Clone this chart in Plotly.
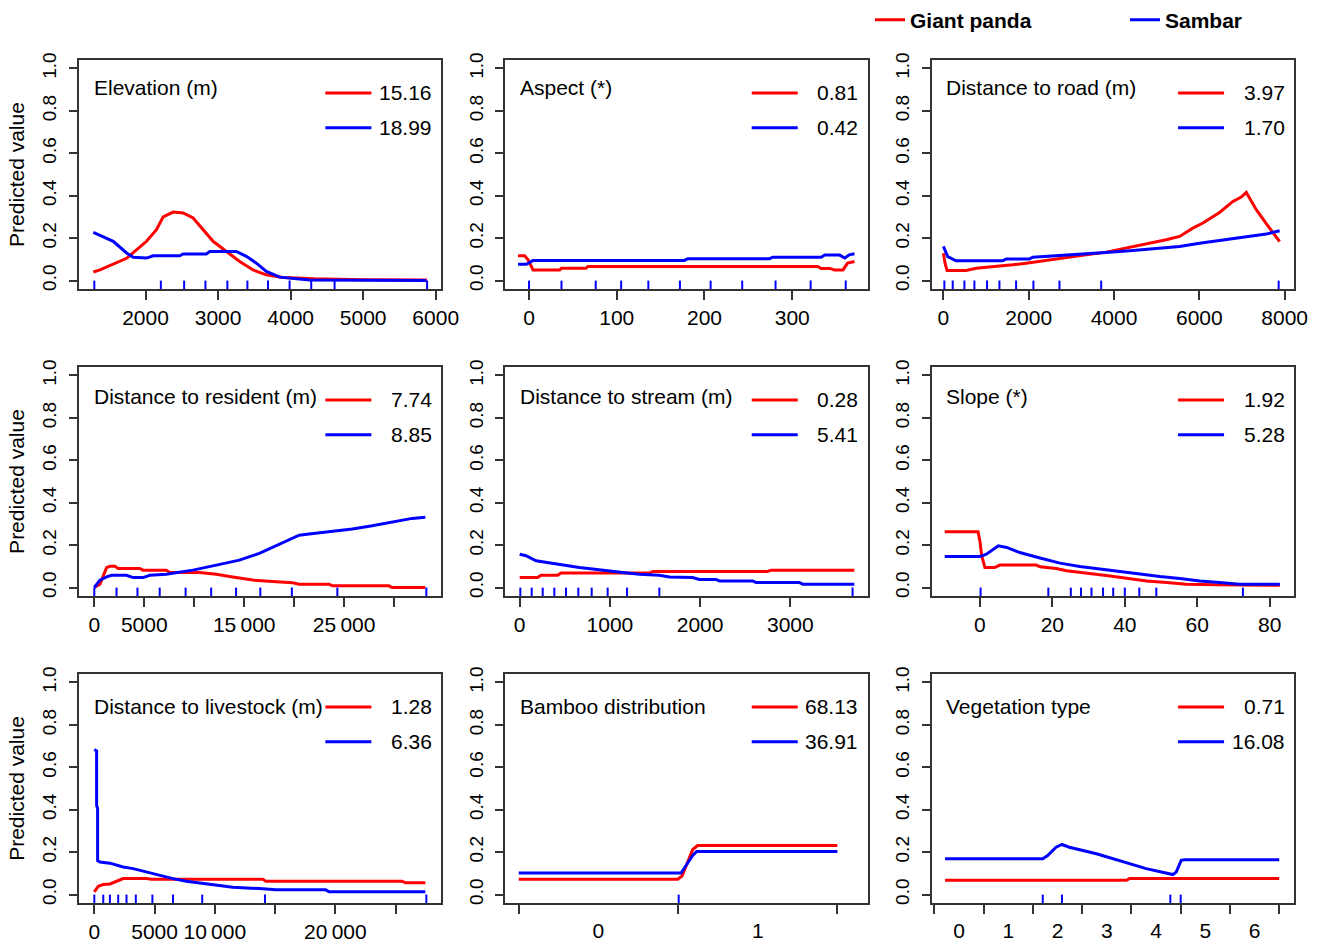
import plotly.graph_objects as go
from plotly.subplots import make_subplots

RED = "#ff0000"
BLUE = "#0000ff"
AXIS = "#333333"
FONT = "Arial, Liberation Sans, sans-serif"

titles = ["Elevation (m)", "Aspect (*)", "Distance to road (m)",
          "Distance to resident (m)", "Distance to stream (m)", "Slope (*)",
          "Distance to livestock (m)", "Bamboo distribution", "Vegetation type"]
panda_score = [15.16, 0.81, 3.97, 7.74, 0.28, 1.92, 1.28, 68.13, 0.71]
sambar_score = [18.99, 0.42, 1.70, 8.85, 5.41, 5.28, 6.36, 36.91, 16.08]

# Elevation (m)
elev_x_panda = [1280, 1372, 1739, 2014, 2151, 2243, 2381, 2518, 2656, 2794, 2931,
                3115, 3298, 3482, 3665, 3894, 4124, 4330, 5000, 5880]
elev_y_panda = [0.04, 0.05, 0.105, 0.185, 0.24, 0.30, 0.323, 0.319, 0.295, 0.24, 0.185,
                0.137, 0.09, 0.05, 0.027, 0.014, 0.009, 0.008, 0.004, 0.003]
elev_x_sambar = [1280, 1555, 1739, 1830, 2014, 2106, 2472, 2518, 2839, 2885, 3252,
                 3390, 3528, 3665, 3849, 4032, 4261, 5867]
elev_y_sambar = [0.227, 0.185, 0.13, 0.11, 0.106, 0.117, 0.117, 0.125, 0.125, 0.137, 0.137,
                 0.114, 0.082, 0.043, 0.016, 0.009, 0.003, 0.0]
elev_rug = [1294, 2211, 2532, 2826, 3128, 3404, 3688, 3986, 4284, 4606, 5881]

# Aspect (*)
asp_x_panda = [-12.5, -5, -1, 4.6, 35, 37, 65, 67, 329, 333, 343, 348, 358, 363, 371]
asp_y_panda = [0.117, 0.117, 0.098, 0.05, 0.05, 0.058, 0.058, 0.066, 0.066, 0.057, 0.057,
               0.05, 0.05, 0.082, 0.09]
asp_x_sambar = [-12.5, -3, 4.6, 177, 181, 274, 278, 333, 337, 354, 360, 365, 371]
asp_y_sambar = [0.077, 0.077, 0.095, 0.095, 0.103, 0.103, 0.11, 0.11, 0.12, 0.12, 0.106,
                0.121, 0.126]
asp_rug = [0, 37, 76, 105, 136, 172, 207, 243, 281, 321, 361]

# Distance to road (m)
road_x_panda = [0, 39, 86, 532, 766, 1314, 1626, 1939, 2408, 2878, 3347, 3816, 4285,
                4754, 5224, 5536, 5849, 6083, 6474, 6787, 6983, 7100, 7335, 7569, 7882]
road_y_panda = [0.129, 0.082, 0.047, 0.047, 0.058, 0.066, 0.074, 0.082, 0.094, 0.106,
                0.121, 0.134, 0.153, 0.173, 0.192, 0.208, 0.247, 0.271, 0.321, 0.373,
                0.394, 0.416, 0.334, 0.268, 0.184]
road_x_sambar = [0, 102, 297, 1392, 1470, 2017, 2096, 2721, 3347, 3972, 4441, 4989,
                 5536, 6005, 6553, 7100, 7569, 7882]
road_y_sambar = [0.161, 0.113, 0.093, 0.093, 0.102, 0.102, 0.11, 0.117, 0.126, 0.134,
                 0.142, 0.153, 0.161, 0.176, 0.192, 0.205, 0.219, 0.235]
road_rug = [23, 219, 493, 727, 1024, 1314, 1705, 2111, 2721, 3699, 7859]

# Distance to resident (m)
res_x_panda = [0, 565, 1229, 1561, 2060, 2392, 4551, 4884, 7209, 7542, 10532, 12193,
               13854, 14850, 15847, 17841, 19834, 20498, 23488, 23821, 29468, 29801, 33123]
res_y_panda = [0.0, 0.016, 0.094, 0.1, 0.1, 0.09, 0.09, 0.082, 0.082, 0.071, 0.071, 0.063,
               0.05, 0.044, 0.035, 0.028, 0.022, 0.016, 0.016, 0.008, 0.008, 0.0, 0.0]
res_x_sambar = [0, 565, 1229, 1728, 3223, 3887, 4884, 5548, 7209, 8538, 9867, 11860,
                14518, 16512, 18173, 19502, 20498, 21495, 22492, 23821, 25814, 27807,
                29801, 31794, 33123]
res_y_sambar = [0.0, 0.035, 0.05, 0.058, 0.058, 0.047, 0.047, 0.058, 0.063, 0.071, 0.082,
                0.102, 0.129, 0.161, 0.197, 0.225, 0.247, 0.252, 0.257, 0.263, 0.276,
                0.291, 0.307, 0.326, 0.331]
res_rug = [0, 2226, 4319, 6545, 9136, 11694, 14186, 16611, 19767, 24319, 33223]

# Distance to stream (m)
str_x_panda = [0, 199, 236, 421, 458, 1440, 1474, 2748, 2785, 3709]
str_y_panda = [0.047, 0.047, 0.058, 0.058, 0.068, 0.068, 0.076, 0.076, 0.082, 0.082]
str_x_sambar = [0, 70, 181, 292, 403, 513, 661, 809, 957, 1141, 1326, 1548, 1659, 1917,
                1991, 2176, 2213, 2582, 2619, 3099, 3136, 3709]
str_y_sambar = [0.157, 0.15, 0.126, 0.118, 0.11, 0.102, 0.094, 0.087, 0.079, 0.071, 0.063,
                0.058, 0.05, 0.047, 0.038, 0.038, 0.031, 0.031, 0.024, 0.024, 0.016, 0.016]
str_rug = [7, 133, 255, 384, 513, 650, 798, 975, 1190, 1548, 3690]

# Slope (*)
slope_x_panda = [-9.7, -0.5, 0, 0.5, 1.4, 4.1, 5.5, 15.6, 16.6, 21.1, 23.9, 29.4, 34.9,
                 40.5, 46.0, 51.5, 57.0, 65.3, 82.8]
slope_y_panda = [0.263, 0.263, 0.22, 0.15, 0.094, 0.094, 0.106, 0.106, 0.098, 0.09, 0.079,
                 0.069, 0.057, 0.044, 0.031, 0.024, 0.016, 0.013, 0.011]
slope_x_sambar = [-9.7, 0, 1.8, 5.1, 7.4, 11.0, 16.6, 22.1, 27.6, 33.1, 38.6, 44.1, 49.7,
                  55.2, 60.7, 66.2, 71.7, 82.8]
slope_y_sambar = [0.146, 0.146, 0.157, 0.197, 0.189, 0.165, 0.139, 0.115, 0.099, 0.087,
                  0.076, 0.063, 0.052, 0.043, 0.031, 0.024, 0.016, 0.016]
slope_rug = [0.2, 18.9, 25.1, 27.9, 30.8, 34.0, 36.8, 40.0, 44.0, 48.7, 72.6]

# Distance to livestock (m)
live_x_panda = [0, 330, 744, 1295, 1708, 2397, 4325, 4738, 13967, 14242, 25537, 25813, 27466]
live_y_panda = [0.0125, 0.039, 0.047, 0.05, 0.059, 0.075, 0.075, 0.072, 0.072, 0.0625,
                0.0625, 0.055, 0.055]
live_x_sambar = [0, 193, 193, 275, 275, 468, 1295, 2397, 3223, 4325, 5427, 6529, 7631,
                 9008, 10110, 11488, 13691, 15069, 19201, 19477, 27466]
live_y_sambar = [0.684, 0.677, 0.42, 0.406, 0.16, 0.153, 0.148, 0.13, 0.122, 0.106, 0.09,
                 0.075, 0.0625, 0.052, 0.041, 0.034, 0.028, 0.022, 0.022, 0.0125, 0.0125]
live_rug = [0, 744, 1295, 1983, 2672, 3444, 4821, 6529, 8953, 14160, 27548]

# Bamboo distribution
bam_x_panda = [-0.5, 0.498, 0.525, 0.592, 0.623, 1.5]
bam_y_panda = [0.072, 0.072, 0.0875, 0.2125, 0.231, 0.231]
bam_x_sambar = [-0.5, 0.519, 0.592, 0.617, 1.5]
bam_y_sambar = [0.1016, 0.1016, 0.184, 0.203, 0.203]
bam_rug = [0.504]

# Vegetation type
veg_x_panda = [-0.283, 3.40, 3.46, 6.5]
veg_y_panda = [0.067, 0.067, 0.075, 0.075]
veg_x_sambar = [-0.283, 1.70, 1.80, 1.97, 2.09, 2.24, 2.79, 3.33, 3.80, 4.34, 4.41, 4.51,
                4.58, 6.5]
veg_y_sambar = [0.169, 0.169, 0.184, 0.223, 0.236, 0.223, 0.192, 0.153, 0.122, 0.094,
                0.106, 0.161, 0.164, 0.164]
veg_rug = [1.70, 2.09, 4.29, 4.50]

# x-axis tick labels
elev_ticks = [2000, 3000, 4000, 5000, 6000]
asp_ticks = [0, 100, 200, 300]
road_ticks = [0, 2000, 4000, 6000, 8000]
res_ticks = [0, 5000, 10000, 15000, 20000, 25000, 30000]
res_labels = ["0", "5000", "", "15\u2009000", "", "25\u2009000", ""]
str_ticks = [0, 1000, 2000, 3000]
slope_ticks = [0, 20, 40, 60, 80]
live_ticks = [0, 5000, 10000, 15000, 20000, 25000]
live_labels = ["0", "5000", "10\u2009000", "", "20\u2009000", ""]
bam_labels = ["0", "1"]
veg_labels = ["0", "1", "2", "3", "4", "5", "6"]

panels = [
    dict(xp=elev_x_panda, yp=elev_y_panda, xs=elev_x_sambar, ys=elev_y_sambar, rug=elev_rug,
         rng=[1083, 6077], tv=elev_ticks, tt=[str(v) for v in elev_ticks]),
    dict(xp=asp_x_panda, yp=asp_y_panda, xs=asp_x_sambar, ys=asp_y_sambar, rug=asp_rug,
         rng=[-27, 386], tv=asp_ticks, tt=[str(v) for v in asp_ticks]),
    dict(xp=road_x_panda, yp=road_y_panda, xs=road_x_sambar, ys=road_y_sambar, rug=road_rug,
         rng=[-274, 8219], tv=road_ticks, tt=[str(v) for v in road_ticks]),
    dict(xp=res_x_panda, yp=res_y_panda, xs=res_x_sambar, ys=res_y_sambar, rug=res_rug,
         rng=[-1530, 34720], tv=res_ticks, tt=res_labels),
    dict(xp=str_x_panda, yp=str_y_panda, xs=str_x_sambar, ys=str_y_sambar, rug=str_rug,
         rng=[-159, 3857], tv=str_ticks, tt=[str(v) for v in str_ticks]),
    dict(xp=slope_x_panda, yp=slope_y_panda, xs=slope_x_sambar, ys=slope_y_sambar, rug=slope_rug,
         rng=[-13.3, 86.7], tv=slope_ticks, tt=[str(v) for v in slope_ticks]),
    dict(xp=live_x_panda, yp=live_y_panda, xs=live_x_sambar, ys=live_y_sambar, rug=live_rug,
         rng=[-1270, 28790], tv=live_ticks, tt=live_labels),
    dict(xp=bam_x_panda, yp=bam_y_panda, xs=bam_x_sambar, ys=bam_y_sambar, rug=bam_rug,
         rng=[-0.584, 1.69], tv=list(range(len(bam_labels))), tt=bam_labels, cat=True),
    dict(xp=veg_x_panda, yp=veg_y_panda, xs=veg_x_sambar, ys=veg_y_sambar, rug=veg_rug,
         rng=[-0.554, 6.80], tv=list(range(len(veg_labels))), tt=veg_labels, cat=True),
]

title_y = [0.882, 0.873, 0.858]  # vertical spot of the panel name, per row

fig = make_subplots(rows=3, cols=3, horizontal_spacing=0.0527, vertical_spacing=0.0925)

for i, p in enumerate(panels):
    row, col = i // 3 + 1, i % 3 + 1
    first = i == 0
    fig.add_trace(go.Scatter(x=p["xp"], y=p["yp"], mode="lines", name="<b>Giant panda</b>",
                             line=dict(color=RED, width=3), showlegend=first,
                             hoverinfo="skip"), row=row, col=col)
    fig.add_trace(go.Scatter(x=p["xs"], y=p["ys"], mode="lines", name="<b>Sambar</b>",
                             line=dict(color=BLUE, width=3), showlegend=first,
                             hoverinfo="skip"), row=row, col=col)
    fig.add_trace(go.Scatter(x=p["rug"], y=[-0.0235] * len(p["rug"]), mode="markers",
                             marker=dict(symbol="line-ns", size=7,
                                         line=dict(color=BLUE, width=2)),
                             showlegend=False, hoverinfo="skip"), row=row, col=col)

    xax = dict(range=p["rng"], tickmode="array", tickvals=p["tv"], ticktext=p["tt"],
               tickangle=0, showgrid=False, zeroline=False, showline=True, mirror=True,
               linecolor=AXIS, linewidth=2, tickfont=dict(size=21, color="black"),
               ticklabelstandoff=0, automargin=False)
    if p.get("cat"):
        xax.update(ticks="", minor=dict(tick0=-0.5, dtick=1, ticks="outside", ticklen=9,
                                        tickwidth=2, tickcolor=AXIS))
        xax["ticklabelstandoff"] = 8
    else:
        xax.update(ticks="outside", ticklen=9, tickwidth=2, tickcolor=AXIS)
    fig.update_xaxes(row=row, col=col, **xax)

    fig.update_yaxes(row=row, col=col, range=[-0.04, 1.04], tickmode="array",
                     tickvals=[0, 0.2, 0.4, 0.6, 0.8, 1.0], tickformat=".1f",
                     tickangle=-90, showgrid=False, zeroline=False, showline=True,
                     mirror=True, linecolor=AXIS, linewidth=2, ticks="outside",
                     ticklen=8, tickwidth=2, tickcolor=AXIS, automargin=False,
                     tickfont=dict(size=19, color="black"), ticklabelstandoff=5,
                     title=dict(text="Predicted value" if col == 1 else "",
                                font=dict(size=21, color="black"), standoff=9))

    # in-panel legend: variable name and relative contribution of each species
    n = "" if i == 0 else str(i + 1)
    xref, yref = "x%s domain" % n, "y%s domain" % n
    fig.add_annotation(xref=xref, yref=yref, x=0.035, y=title_y[row - 1], text=titles[i],
                       showarrow=False, xanchor="left", yanchor="middle",
                       font=dict(size=21, color="black"))
    for val, color, yy in [(panda_score[i], RED, 0.856), (sambar_score[i], BLUE, 0.704)]:
        fig.add_shape(type="line", xref=xref, yref=yref, x0=0.68, x1=0.807, y0=yy, y1=yy,
                      line=dict(color=color, width=3))
        fig.add_annotation(xref=xref, yref=yref, x=0.98, y=yy, text="%.2f" % val,
                           showarrow=False, xanchor="right", yanchor="middle",
                           font=dict(size=21, color="black"))

fig.update_layout(
    width=1317, height=942,
    margin=dict(l=79, r=23, t=60, b=39),
    paper_bgcolor="white", plot_bgcolor="white",
    font=dict(family=FONT, color="black"),
    showlegend=True,
    legend=dict(orientation="h", xref="container", yref="container",
                x=870 / 1317, y=1 - 20 / 942, xanchor="left", yanchor="middle",
                font=dict(size=21, color="black"), entrywidth=210,
                entrywidthmode="pixels", bgcolor="rgba(0,0,0,0)"),
)

fig.write_html("out.html", config={"displayModeBar": False},
               post_script="document.body.style.margin='0';")
